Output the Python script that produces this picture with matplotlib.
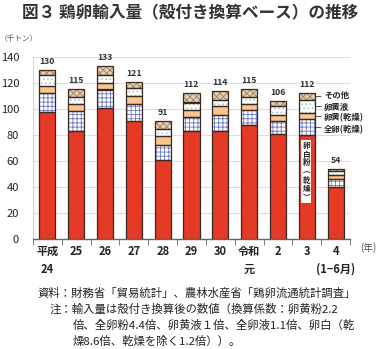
import matplotlib
matplotlib.use("Agg")
import matplotlib.pyplot as plt
import numpy as np

plt.rcParams['font.family'] = ['Noto Sans CJK JP', 'DejaVu Sans']
plt.rcParams['hatch.linewidth'] = 0.6

categories = ['平成\n24', '25', '26', '27', '28', '29', '30', '令和\n元', '2', '3', '4\n(1−6月)']
totals = [130, 115, 133, 121, 91, 112, 114, 115, 106, 112, 54]
egg_white = [98, 83, 101, 91, 61, 83, 83, 88, 81, 80, 40]
whole_dry = [14.5, 15.5, 14, 13, 11, 10.5, 12.5, 11, 10, 12, 6]
yolk_dry = [5, 5, 5, 6, 7, 5.5, 6.5, 4.5, 4.5, 5, 3]
yolk_liquid = [8.5, 6, 6.5, 6, 5.5, 6, 5, 6, 7, 10, 3]
other = [4, 5.5, 6.5, 5, 6.5, 7, 7, 5.5, 3.5, 5, 2]
series_names = ['卵白粉(乾燥)', '全卵(乾燥)', '卵黄(乾燥)', '卵黄液', 'その他']
yticks = [0, 20, 40, 60, 80, 100, 120, 140]

fig = plt.figure(figsize=(3.78, 3.49), dpi=100)
ax = fig.add_axes([33/378, 1-239/349, (350-33)/378, (239-57)/349])

x = np.arange(len(categories))
w = 0.56
edge = '#3a2a22'
series = [egg_white, whole_dry, yolk_dry, yolk_liquid, other]
faces = ['#e53a25', 'white', '#f9c68f', 'white', '#e3cfb2']
hatches = [None, '++++', None, '....', 'xxxxx']
hcolors = [None, '#6a78c0', None, '#8fc8c0', '#9c8062']

bottom = np.zeros(len(categories))
for vals, fc, h, hc in zip(series, faces, hatches, hcolors):
    vals = np.array(vals, dtype=float)
    if h:
        ax.bar(x, vals, w, bottom=bottom, color=fc, hatch=h, edgecolor=hc, linewidth=0, zorder=2)
    else:
        ax.bar(x, vals, w, bottom=bottom, color=fc, linewidth=0, zorder=2)
    ax.bar(x, vals, w, bottom=bottom, fill=False, edgecolor=edge, linewidth=0.9, zorder=3)
    bottom += vals

for xi, t in zip(x, totals):
    ax.annotate(str(t), (xi, t), xytext=(0, 3), textcoords='offset points',
                ha='center', va='bottom', fontsize=6.3, fontweight='bold', color='#333333')

ax.set_xlim(-0.5, len(categories) - 0.5)
ax.set_ylim(0, 140)
ax.set_yticks(yticks)
ax.set_yticklabels([str(v) for v in yticks], fontsize=8, color='#222222')
ax.tick_params(axis='y', length=0, pad=10)
ax.grid(axis='y', color='#dddddd', linewidth=0.8, zorder=0)
ax.set_axisbelow(True)
ax.set_xticks(x)
ax.set_xticklabels(categories, fontsize=8, fontweight='bold', color='#222222', linespacing=1.5)
ax.tick_params(axis='x', length=0, pad=4)
ax.set_xticks(np.arange(-0.5, len(categories)), minor=True)
ax.tick_params(axis='x', which='minor', length=4, color='#666666', direction='out')
for s in ['top', 'right']:
    ax.spines[s].set_visible(False)
ax.spines['left'].set_color('#d5d5d5')
ax.spines['bottom'].set_color('#666666')
ax.spines['bottom'].set_linewidth(1.0)

# legend-like labels next to bar index 9
i = 9
cum = np.cumsum([s[i] for s in series])
mids = [cum[k] - series[k][i] / 2 for k in range(5)]
lab_y = {4: 110.5, 3: 101.5, 2: 93, 1: 84}
for k in [4, 3, 2, 1]:
    ax.annotate(series_names[k], (i + w/2, mids[k]), xytext=(i + w/2 + 0.32, lab_y[k]),
                textcoords='data', fontsize=6, fontweight='bold', color='#222222',
                ha='left', va='center',
                arrowprops=dict(arrowstyle='-', color='#333333', lw=0.6, shrinkA=0, shrinkB=1))
ax.text(i - 0.02, 52, '卵\n白\n粉\n︵\n乾\n燥\n︶', fontsize=5.5, fontweight='bold', color='#222222',
        ha='center', va='center', linespacing=0.95, zorder=5,
        bbox=dict(boxstyle='square,pad=0.15', fc='white', ec='none'))

fig.text(190/378, 1 - 13/349, '図３ 鶏卵輸入量（殻付き換算ベース）の推移', ha='center', va='center',
         fontsize=12, fontweight='bold', color='#333333')
fig.text(0/378, 1 - 39/349, '（千トン）', ha='left', va='center', fontsize=5.5, color='#555555')
fig.text(376/378, 1 - 248/349, '(年)', ha='right', va='center', fontsize=7, color='#555555')

note_fs = 8.2
fig.text(37/378, 1 - 293/349, '資料：財務省「貿易統計」、農林水産省「鶏卵流通統計調査」',
         ha='left', va='center', fontsize=note_fs, color='#222222')
fig.text(50/378, 1 - 309/349, '注：輸入量は殻付き換算後の数値（換算係数：卵黄粉2.2',
         ha='left', va='center', fontsize=note_fs, color='#222222')
fig.text(73/378, 1 - 325/349, '倍、全卵粉4.4倍、卵黄液１倍、全卵液1.1倍、卵白（乾',
         ha='left', va='center', fontsize=note_fs, color='#222222')
fig.text(73/378, 1 - 341/349, '燥8.6倍、乾燥を除く1.2倍））。',
         ha='left', va='center', fontsize=note_fs, color='#222222')

fig.savefig('out.png', dpi=100)
